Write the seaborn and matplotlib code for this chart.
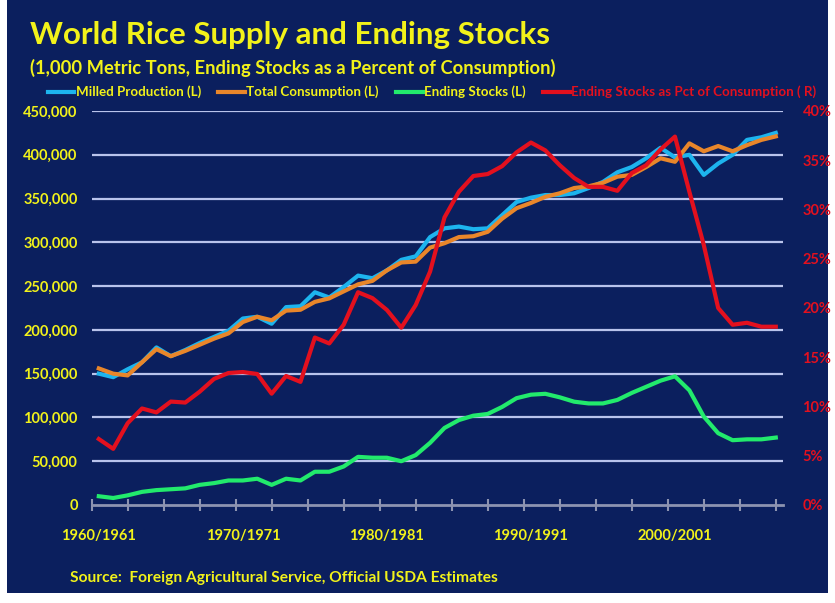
import numpy as np
import pandas as pd
import matplotlib
matplotlib.use("Agg")
import matplotlib.pyplot as plt
from matplotlib.patches import Rectangle
from matplotlib.lines import Line2D
import seaborn as sns

# marketing years 1960/1961 .. 2007/2008
years = [f"{y}/{y + 1}" for y in range(1960, 2008)]

production = [150, 146, 155, 163, 180, 170, 177, 185, 192, 199,
              213, 215, 207, 226, 227, 243, 237, 249, 262, 259,
              268, 280, 284, 306, 316, 318, 315, 316, 331, 346,
              351, 354, 354, 356, 362, 369, 380, 386, 396, 408,
              397, 400, 377, 390, 400, 417, 420, 425]
consumption = [156, 150, 148, 163, 178, 170, 176, 183, 190, 196,
               209, 215, 211, 222, 223, 232, 236, 244, 252, 256,
               268, 277, 278, 294, 299, 306, 307, 312, 327, 339,
               345, 352, 356, 362, 364, 368, 375, 377, 386, 396,
               392, 413, 404, 410, 404, 411, 417, 421]
stocks = [10, 8, 11, 15, 17, 18, 19, 23, 25, 28,
          28, 30, 23, 30, 28, 38, 38, 44, 55, 54,
          54, 50, 57, 71, 88, 97, 102, 104, 112, 122,
          126, 127, 123, 118, 116, 116, 120, 128, 135, 142,
          147, 131, 101, 82, 74, 75, 75, 77]
stocks_pct = [6.7, 5.7, 8.3, 9.8, 9.4, 10.5, 10.4, 11.5, 12.8, 13.4,
              13.5, 13.3, 11.3, 13.1, 12.5, 17.0, 16.4, 18.3, 21.6, 21.0,
              19.8, 18.0, 20.3, 23.7, 29.2, 31.8, 33.4, 33.6, 34.4, 35.8,
              36.8, 36.0, 34.5, 33.2, 32.3, 32.3, 31.9, 33.7, 34.5, 36.1,
              37.4, 31.8, 26.4, 20.0, 18.3, 18.5, 18.1, 18.1]

left_ticks = [0, 50000, 100000, 150000, 200000, 250000, 300000, 350000, 400000, 450000]
right_ticks = [0, 5, 10, 15, 20, 25, 30, 35, 40]
label_pos = [0, 10, 20, 30, 40]

df = pd.DataFrame({
    "pos": np.arange(len(years)),
    "year": years,
    "production": np.array(production) * 1000,
    "consumption": np.array(consumption) * 1000,
    "stocks": np.array(stocks) * 1000,
    "pct": stocks_pct,
})

navy = "#0b1f5e"
yellow = "#f2f21a"
red = "#e3101e"
c_prod = "#1db4ee"
c_cons = "#e9862a"
c_stock = "#22ea6c"
grid_c = "#b9c3ec"

plt.rcParams["font.family"] = ["Lato", "DejaVu Sans"]
plt.rcParams["font.weight"] = "bold"

fig = plt.figure(figsize=(8.35, 6.03), dpi=100, facecolor="white")
fig.patches.append(Rectangle((7 / 835, 10 / 603), 821 / 835, 593 / 603,
                             transform=fig.transFigure, facecolor=navy,
                             edgecolor="none", zorder=-10))

ax = fig.add_axes([91.6 / 835, (603 - 505) / 603, (783 - 91.6) / 835, 394 / 603])
ax.set_facecolor("none")

sns.lineplot(data=df, x="pos", y="production", ax=ax, color=c_prod, lw=3)
sns.lineplot(data=df, x="pos", y="consumption", ax=ax, color=c_cons, lw=3)
sns.lineplot(data=df, x="pos", y="stocks", ax=ax, color=c_stock, lw=3)

ax.set_ylim(0, 450000)
ax.set_xlim(-0.5, 47.5)
ax.set_yticks(left_ticks)
ax.set_yticklabels([f"{v:,}" for v in left_ticks], color=yellow,
                   fontsize=10.5, fontweight="bold")
for v in left_ticks[1:]:
    ax.axhline(v, color=grid_c, lw=1.6, zorder=0)
ax.set_xticks(label_pos)
ax.set_xticklabels([years[i] for i in label_pos], color=yellow,
                   fontsize=10.5, fontweight="bold")
ax.set_xticks(np.arange(-0.5, 47.6, 2.5), minor=True)
ax.tick_params(axis="x", which="major", length=0, pad=17)
ax.tick_params(axis="x", which="minor", length=9, direction="inout",
               color="#8d93b0", width=1.5)
ax.tick_params(axis="y", length=0, pad=10)
ax.set_xlabel("")
ax.set_ylabel("")
for s in ["top", "right", "left"]:
    ax.spines[s].set_visible(False)
ax.spines["bottom"].set_color("#8d93b0")
ax.spines["bottom"].set_linewidth(2)

ax2 = ax.twinx()
sns.lineplot(data=df, x="pos", y="pct", ax=ax2, color=red, lw=3)
ax2.set_ylim(0, 40)
ax2.set_yticks(right_ticks)
ax2.set_yticklabels([f"{v}%" for v in right_ticks], color=red,
                    fontsize=10.5, fontweight="bold")
ax2.tick_params(axis="y", length=0, pad=14)
ax2.set_ylabel("")
for s in ax2.spines.values():
    s.set_visible(False)

fig.text(30 / 835, 1 - 35 / 603, "World Rice Supply and Ending Stocks",
         color=yellow, fontsize=22.6, fontweight="bold", va="center")
fig.text(30 / 835, 1 - 68 / 603,
         "(1,000 Metric Tons, Ending Stocks as a Percent of Consumption)",
         color=yellow, fontsize=13.2, fontweight="bold", va="center")
fig.text(70 / 835, 1 - 578 / 603,
         "Source:  Foreign Agricultural Service, Official USDA Estimates",
         color=yellow, fontsize=11.2, fontweight="bold", va="center")

handles = [Line2D([], [], color=c, lw=3) for c in (c_prod, c_cons, c_stock, red)]
names = ["Milled Production (L)", "Total Consumption (L)",
         "Ending Stocks (L)", "Ending Stocks as Pct of Consumption ( R)"]
leg = fig.legend(handles, names, loc="center", ncol=4,
                 bbox_to_anchor=(432 / 835, 1 - 92 / 603), frameon=False,
                 fontsize=9.6, handlelength=2.0, handletextpad=0.1,
                 columnspacing=1.3)
for t, c in zip(leg.get_texts(), [yellow, yellow, yellow, red]):
    t.set_color(c)
    t.set_fontweight("bold")

fig.savefig("out.png", dpi=100, facecolor=fig.get_facecolor())
